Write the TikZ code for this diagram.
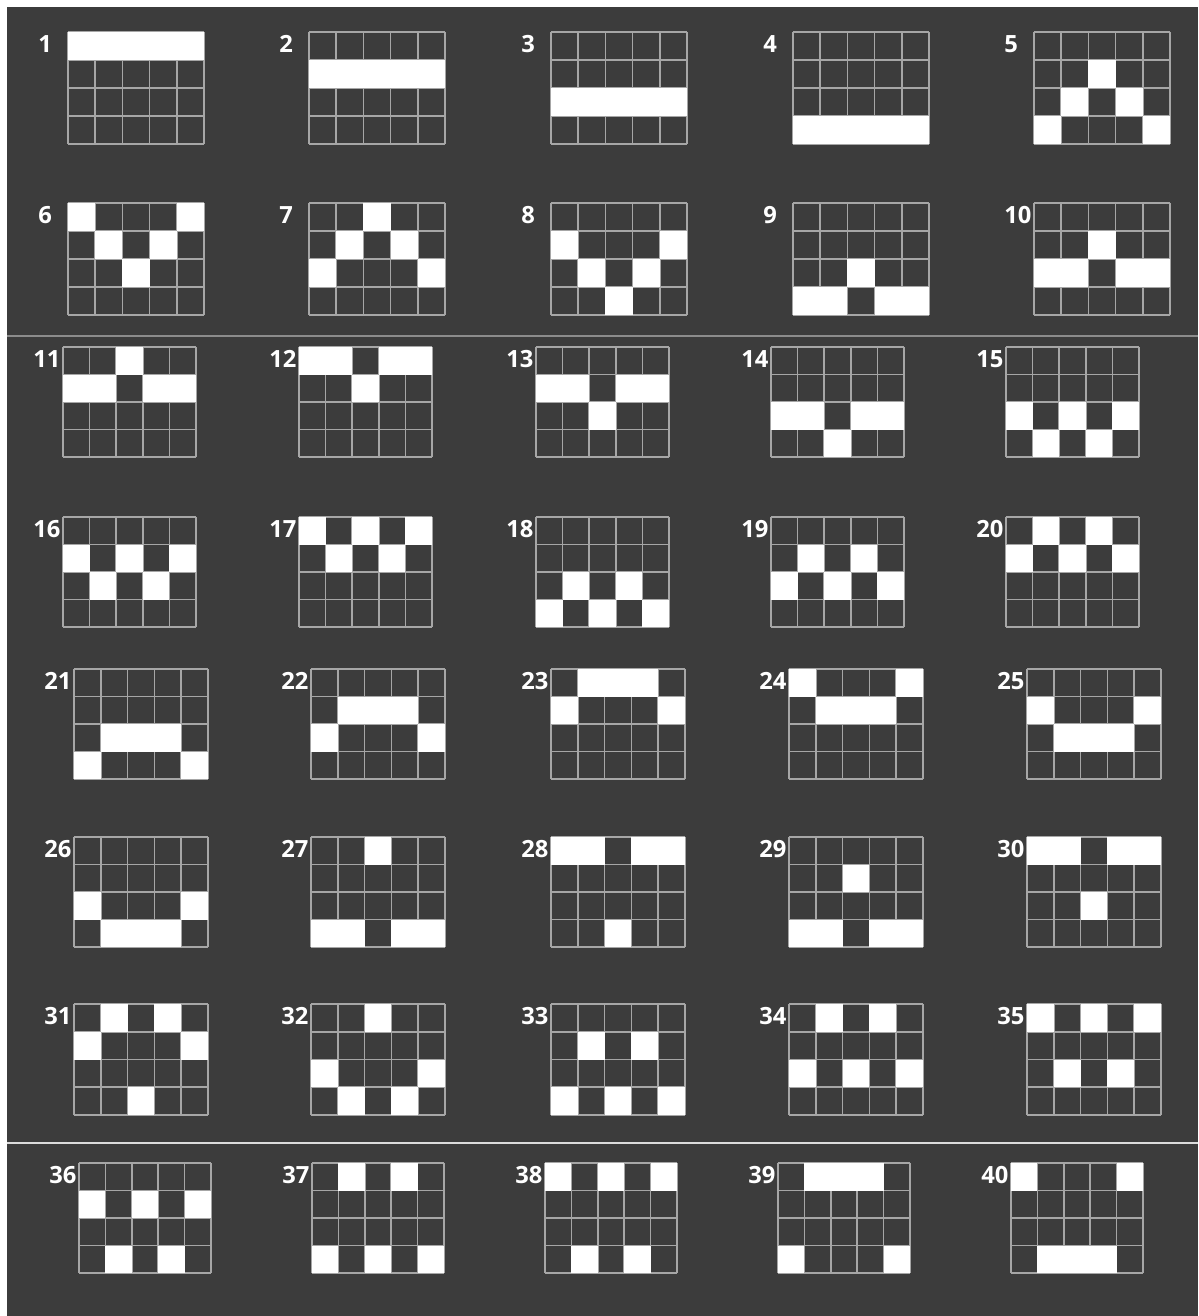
\documentclass[tikz,border=0pt]{standalone}
\usepackage{fontspec}
\setmainfont{Open Sans}
\usetikzlibrary{calc}
\definecolor{cbg}{HTML}{3C3C3C}
\definecolor{cgrid}{HTML}{A6A6A6}
\definecolor{csepa}{HTML}{8C8C8C}
\definecolor{csepb}{HTML}{DCDCDC}

\tikzset{
  lbl/.style={anchor=west, inner sep=0pt, text=white, font=\fontsize{13.5}{15}\selectfont\bfseries},
  hit/.style={fill=white},
  gridline/.style={draw=cgrid, line width=1pt},
}

% #1 number, #2 left, #3 top, #4 width, #5 height, #6 lit row per reel
\newcommand{\paygrid}[6]{%
  \foreach \k in {0,...,5} \draw[gridline] ({#2+\k*#4/5},#3) -- ++(0,#5);
  \foreach \k in {0,...,4} \draw[gridline] (#2,{#3+\k*#5/4}) -- ++(#4,0);
  \foreach \r [count=\col from 0] in {#6}
    \fill[hit] ({#2+\col*#4/5},{#3+\r*#5/4}) rectangle ++({#4/5},{#5/4});
  \node[lbl] (l#1) at (#2-30,#3+12) {#1};
}

\begin{document}
\begin{tikzpicture}[x=0.02cm, y=-0.02cm]
  \fill[white] (0,0) rectangle (1198,1316);
  \useasboundingbox (0,0) rectangle (1198,1316);
  \fill[cbg] (7,7) rectangle (1198,1316);
  \draw[csepa, line width=1.2pt] (7,336) -- (1198,336);
  \draw[csepb, line width=1.2pt] (7,1143) -- (1198,1143);

  % lines 1-10
  \paygrid{1}{68}{32}{136}{112}{0,0,0,0,0}
  \paygrid{2}{309}{32}{136}{112}{1,1,1,1,1}
  \paygrid{3}{551}{32}{136}{112}{2,2,2,2,2}
  \paygrid{4}{793}{32}{136}{112}{3,3,3,3,3}
  \paygrid{5}{1034}{32}{136}{112}{3,2,1,2,3}
  \paygrid{6}{68}{203}{136}{112}{0,1,2,1,0}
  \paygrid{7}{309}{203}{136}{112}{2,1,0,1,2}
  \paygrid{8}{551}{203}{136}{112}{1,2,3,2,1}
  \paygrid{9}{793}{203}{136}{112}{3,3,2,3,3}
  \paygrid{10}{1034}{203}{136}{112}{2,2,1,2,2}

  % lines 11-20
  \paygrid{11}{63}{347}{133}{110}{1,1,0,1,1}
  \paygrid{12}{299}{347}{133}{110}{0,0,1,0,0}
  \paygrid{13}{536}{347}{133}{110}{1,1,2,1,1}
  \paygrid{14}{771}{347}{133}{110}{2,2,3,2,2}
  \paygrid{15}{1006}{347}{133}{110}{2,3,2,3,2}
  \paygrid{16}{63}{517}{133}{110}{1,2,1,2,1}
  \paygrid{17}{299}{517}{133}{110}{0,1,0,1,0}
  \paygrid{18}{536}{517}{133}{110}{3,2,3,2,3}
  \paygrid{19}{771}{517}{133}{110}{2,1,2,1,2}
  \paygrid{20}{1006}{517}{133}{110}{1,0,1,0,1}

  % lines 21-35
  \paygrid{21}{74}{669}{134}{110}{3,2,2,2,3}
  \paygrid{22}{311}{669}{134}{110}{2,1,1,1,2}
  \paygrid{23}{551}{669}{134}{110}{1,0,0,0,1}
  \paygrid{24}{789}{669}{134}{110}{0,1,1,1,0}
  \paygrid{25}{1027}{669}{134}{110}{1,2,2,2,1}
  \paygrid{26}{74}{837}{134}{110}{2,3,3,3,2}
  \paygrid{27}{311}{837}{134}{110}{3,3,0,3,3}
  \paygrid{28}{551}{837}{134}{110}{0,0,3,0,0}
  \paygrid{29}{789}{837}{134}{110}{3,3,1,3,3}
  \paygrid{30}{1027}{837}{134}{110}{0,0,2,0,0}
  \paygrid{31}{74}{1004}{134}{111}{1,0,3,0,1}
  \paygrid{32}{311}{1004}{134}{111}{2,3,0,3,2}
  \paygrid{33}{551}{1004}{134}{111}{3,1,3,1,3}
  \paygrid{34}{789}{1004}{134}{111}{2,0,2,0,2}
  \paygrid{35}{1027}{1004}{134}{111}{0,2,0,2,0}

  % lines 36-40
  \paygrid{36}{79}{1163}{132}{110}{1,3,1,3,1}
  \paygrid{37}{312}{1163}{132}{110}{3,0,3,0,3}
  \paygrid{38}{545}{1163}{132}{110}{0,3,0,3,0}
  \paygrid{39}{778}{1163}{132}{110}{3,0,0,0,3}
  \paygrid{40}{1011}{1163}{132}{110}{0,3,3,3,0}
\end{tikzpicture}
\end{document}
